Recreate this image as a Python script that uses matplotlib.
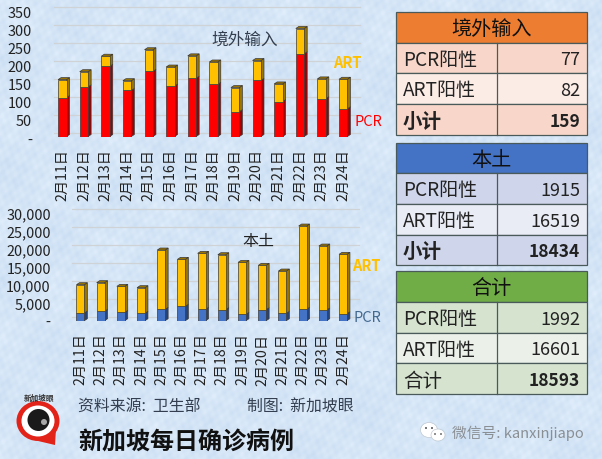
import numpy as np
import matplotlib
matplotlib.use('Agg')
import matplotlib.pyplot as plt
from matplotlib.patches import Rectangle, Polygon, Circle, Ellipse
from matplotlib.transforms import ScaledTranslation

plt.rcParams['font.family'] = ['Noto Sans CJK SC', 'DejaVu Sans']

W = 602
H = 460

days = ['2月11日', '2月12日', '2月13日', '2月14日', '2月15日', '2月16日', '2月17日',
        '2月18日', '2月19日', '2月20日', '2月21日', '2月22日', '2月23日', '2月24日']

# 境外输入
import_pcr = [108, 138, 195, 128, 181, 140, 162, 145, 69, 156, 97, 230, 105, 77]
import_art = [50, 42, 28, 27, 60, 53, 62, 62, 67, 55, 49, 70, 55, 82]
import_ticks = [0, 50, 100, 150, 200, 250, 300, 350]

# 本土
local_pcr = [2130, 2590, 2310, 2040, 3150, 3980, 3150, 3060, 1760, 3060, 2040, 3150, 2960, 1915]
local_art = [7870, 7970, 7230, 7130, 16480, 13060, 15550, 15270, 14440, 12310, 11760, 23150, 17780, 16519]
local_ticks = [0, 5000, 10000, 15000, 20000, 25000, 30000]

# right hand tables
table_titles = ['境外输入', '本土', '合计']
table_labels = [['PCR阳性', 'ART阳性', '小计'], ['PCR阳性', 'ART阳性', '小计'], ['PCR阳性', 'ART阳性', '合计']]
table_values = [[77, 82, 159], [1915, 16519, 18434], [1992, 16601, 18593]]


def px_axes(fig, left, right, top, bottom):
    # axes placed with reference pixel edges
    return fig.add_axes([left / W, 1 - bottom / H, (right - left) / W, (bottom - top) / H])


def bars3d(ax, lower, upper, low_col, low_side, up_col, up_side, depth_x, depth_y):
    # stacked bars with a fake depth, side and top faces worked out from the values
    x = np.arange(len(lower))
    lower = np.array(lower)
    upper = np.array(upper)
    w = 0.39
    for i in x:
        l = i - w / 2
        r = i + w / 2
        t1 = lower[i]
        t2 = lower[i] + upper[i]
        ax.add_patch(Polygon([(r, 0), (r + depth_x, depth_y), (r + depth_x, t1 + depth_y), (r, t1)],
                             fc=low_side, ec='#3a3a3a', lw=0.5, zorder=3))
        ax.add_patch(Polygon([(r, t1), (r + depth_x, t1 + depth_y), (r + depth_x, t2 + depth_y), (r, t2)],
                             fc=up_side, ec='#3a3a3a', lw=0.5, zorder=3))
        ax.add_patch(Polygon([(l, t2), (l + depth_x, t2 + depth_y), (r + depth_x, t2 + depth_y), (r, t2)],
                             fc=up_side, ec='#3a3a3a', lw=0.5, zorder=3))
    ax.bar(x, lower, w, color=low_col, edgecolor='#3a3a3a', lw=0.5, zorder=4)
    ax.bar(x, upper, w, bottom=lower, color=up_col, edgecolor='#3a3a3a', lw=0.5, zorder=4)


def style_axes(ax, ticks, ymax, grid_up, label_down):
    ax.set_xlim(-0.5, len(days) - 0.5)
    ax.set_ylim(0, ymax)
    ax.patch.set_alpha(0)
    for s in ax.spines.values():
        s.set_visible(False)
    ax.set_yticks(ticks)
    ax.set_yticklabels(['-' if t == 0 else f'{t:,}' for t in ticks], fontsize=10.4, color='#222222')
    ax.set_xticks(range(len(days)))
    ax.set_xticklabels(days, rotation=90, fontsize=10.2, color='#222222')
    ax.tick_params(length=0, axis='y', pad=14)
    ax.tick_params(length=0, axis='x', pad=8.5)
    # tick labels sit a little below their gridline
    shift = ScaledTranslation(0, -label_down / 100, ax.figure.dpi_scale_trans)
    for lab in ax.get_yticklabels():
        lab.set_transform(lab.get_transform() + shift)
    for t in ticks:
        ax.plot([-0.4, 13.8], [t + grid_up, t + grid_up], color='#cfd3d6', lw=0.9, zorder=1, clip_on=False)


fig = plt.figure(figsize=(W / 100, H / 100), dpi=100)

# mottled paper background, a few overlapping waves
yy, xx = np.mgrid[0:H, 0:W]
tex = (np.sin(xx * 0.31 + yy * 0.17) + np.sin(xx * 0.13 - yy * 0.37 + 1.3)
       + np.sin(xx * 0.57 + yy * 0.71 + 0.4) + np.sin(xx * 0.83 - yy * 0.29 + 2.1)
       + np.sin(xx * 0.047 + yy * 0.061) + np.sin(xx * 0.071 - yy * 0.053 + 0.8)) / 6
bg = np.zeros((H, W, 3))
bg[..., 0] = 0.835 + tex * 0.05
bg[..., 1] = 0.900 + tex * 0.036
bg[..., 2] = 0.968 + tex * 0.02
back = fig.add_axes([0, 0, 1, 1], zorder=-1)
back.imshow(np.clip(bg, 0, 1), aspect='auto', interpolation='bilinear')
back.axis('off')

# 境外输入 chart
ax1 = px_axes(fig, 51.5, 354, 11.5, 137.5)
style_axes(ax1, import_ticks, 350, 11, 1.5)
bars3d(ax1, import_pcr, import_art, '#ff0000', '#a00000', '#ffc000', '#9a7400', 3 / 21.6, 2 / 0.36)

# 本土 chart
ax2 = px_axes(fig, 70.3, 353.1, 213.7, 321.7)
style_axes(ax2, local_ticks, 30000, 1000, 0)
bars3d(ax2, local_pcr, local_art, '#4472c4', '#264478', '#ffc000', '#9a7400', 3 / 20.2, 2 / 0.0036)

# everything else is placed in reference pixels
over = fig.add_axes([0, 0, 1, 1])
over.set_xlim(0, W)
over.set_ylim(H, 0)
over.axis('off')
over.patch.set_alpha(0)

over.text(245, 40, '境外输入', fontsize=12, color='#333f50', ha='center', va='center')
over.text(347, 63, 'ART', fontsize=10.5, fontweight='bold', color='#ffc000', ha='center', va='center')
over.text(368, 122, 'PCR', fontsize=10.5, color='#ff0000', ha='center', va='center')
over.text(258, 242, '本土', fontsize=11.5, color='#222222', ha='center', va='center')
over.text(366, 266.5, 'ART', fontsize=10.5, fontweight='bold', color='#ffc000', ha='center', va='center')
over.text(367, 318, 'PCR', fontsize=10.5, color='#44698f', ha='center', va='center')

table_rows = [[12.7, 43.7, 74, 105, 136], [143.7, 174, 205, 235.7, 266], [272.3, 302.7, 333.7, 364.3, 395]]
head_cols = ['#ed7d31', '#4472c4', '#70ad47']
dark_cols = ['#f8d7ca', '#cfd5ea', '#d5e3cf']
light_cols = ['#fcecE6', '#e9ebf5', '#ebf1e9']
x0, xm, x1 = 396, 497, 587
line = '#4a5a5a'

for k in range(3):
    rows = table_rows[k]
    over.add_patch(Rectangle((x0, rows[0]), x1 - x0, rows[1] - rows[0], fc=head_cols[k], ec=line, lw=0.9))
    over.text((x0 + x1) / 2, (rows[0] + rows[1]) / 2 + 1.5, table_titles[k], fontsize=14.5, fontweight='medium',
              color='#111111', ha='center', va='center')
    for j in range(3):
        col = light_cols[k] if j == 1 else dark_cols[k]
        over.add_patch(Rectangle((x0, rows[j + 1]), x1 - x0, rows[j + 2] - rows[j + 1], fc=col, ec=line, lw=0.9))
        ymid = (rows[j + 1] + rows[j + 2]) / 2 + 1.5
        total = j == 2
        sub = total and k < 2
        over.text(x0 + 7, ymid, table_labels[k][j], fontsize=14 if total else 13.7,
                  fontweight='bold' if sub else 'normal', color='#222222', ha='left', va='center')
        over.text(x1 - 7, ymid, str(table_values[k][j]), fontsize=12.5 if total else 13,
                  fontweight='bold' if total else 'normal', color='#222222', ha='right', va='center')
    over.plot([xm, xm], [rows[1], rows[4]], color=line, lw=0.9)

# source lines and title
over.text(78, 407, '资料来源:  卫生部', fontsize=11.4, color='#333f50', ha='left', va='center')
over.text(247, 407, '制图:  新加坡眼', fontsize=11.4, color='#333f50', ha='left', va='center')
over.text(78, 443, '新加坡每日确诊病例', fontsize=17.3, fontweight='bold', color='#111111', ha='left', va='center')

# logo
over.add_patch(Polygon([(38, 442), (55, 446), (56, 430)], fc='#e2231a', ec='none'))
over.add_patch(Ellipse((38, 422), 43, 40, fc='#e2231a', ec='none'))
over.add_patch(Ellipse((38, 422), 33, 31, fc='white', ec='none'))
over.add_patch(Circle((38.5, 421), 11, fc='#1a1a1a', ec='none'))
over.add_patch(Circle((44, 423), 3, fc='#a8a8a8', ec='none'))
over.text(39, 398, '新加坡眼', fontsize=5.5, fontweight='bold', color='#333333', ha='center', va='center')

# wechat mark
over.add_patch(Ellipse((429, 431), 17, 15, fc='white', ec='#bfc9d2', lw=0.5))
over.add_patch(Ellipse((438, 436), 14, 12, fc='white', ec='#bfc9d2', lw=0.5))
over.add_patch(Circle((426, 429), 1, fc='#555555', ec='none'))
over.add_patch(Circle((432, 429), 1, fc='#555555', ec='none'))
over.add_patch(Circle((435, 435), 0.9, fc='#555555', ec='none'))
over.add_patch(Circle((441, 435), 0.9, fc='#555555', ec='none'))
over.text(452, 433, '微信号: kanxinjiapo', fontsize=10.6, color='#8a8f94', ha='left', va='center')

fig.savefig('out.png', dpi=100)
